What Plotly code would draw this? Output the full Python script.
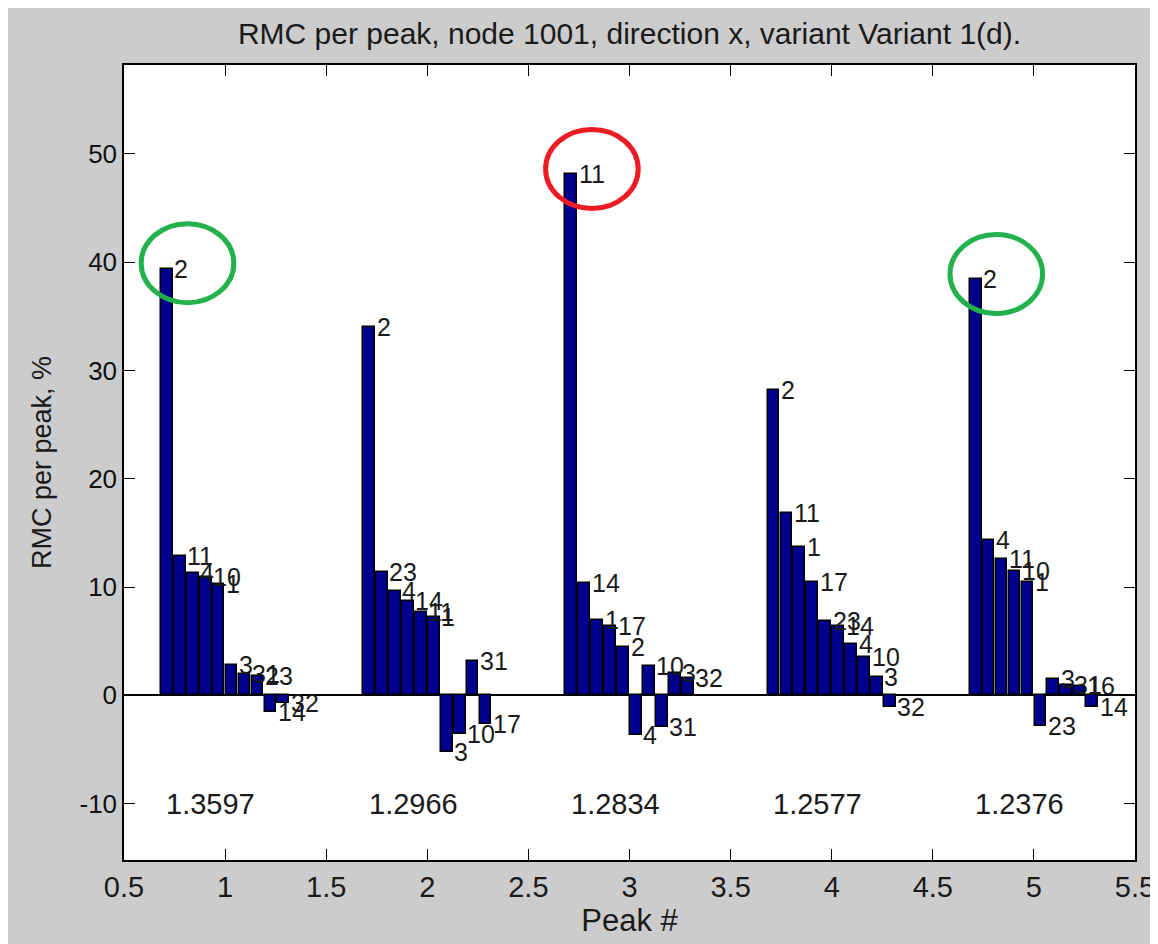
import plotly.graph_objects as go

# ---- data ----
peaks = [1, 2, 3, 4, 5]
peak_values = ["1.3597", "1.2966", "1.2834", "1.2577", "1.2376"]

g1_vals = [39.4, 12.9, 11.3, 10.9, 10.3, 2.8, 2.0, 1.8, -1.5, -0.7]
g1_nodes = ["2", "11", "4", "10", "1", "3", "31", "23", "14", "32"]
g2_vals = [34.0, 11.4, 9.6, 8.7, 7.7, 7.2, -5.2, -3.6, 3.2, -2.6]
g2_nodes = ["2", "23", "4", "14", "11", "1", "3", "10", "31", "17"]
g3_vals = [48.1, 10.4, 7.0, 6.4, 4.5, -3.7, 2.7, -2.9, 2.1, 1.6]
g3_nodes = ["11", "14", "1", "17", "2", "4", "10", "31", "3", "32"]
g4_vals = [28.2, 16.8, 13.7, 10.5, 6.9, 6.4, 4.7, 3.5, 1.7, -1.1]
g4_nodes = ["2", "11", "1", "17", "23", "14", "4", "10", "3", "32"]
g5_vals = [38.4, 14.3, 12.6, 11.5, 10.5, -2.8, 1.5, 1.0, 0.9, -1.1]
g5_nodes = ["2", "4", "11", "10", "1", "23", "3", "31", "16", "14"]

# highlighted groups (index into peaks) and circle colours
highlight_groups = [0, 2, 4]
highlight_colors = ["#22b14c", "#ed1c24", "#22b14c"]

x_ticks = [0.5, 1, 1.5, 2, 2.5, 3, 3.5, 4, 4.5, 5, 5.5]
y_ticks = [-10, 0, 10, 20, 30, 40, 50]

# ---- layout constants ----
group_vals = [g1_vals, g2_vals, g3_vals, g4_vals, g5_vals]
group_nodes = [g1_nodes, g2_nodes, g3_nodes, g4_nodes, g5_nodes]
SPACING = 0.064
BAR_W = 0.058
FONT = "Liberation Sans, Arial, sans-serif"
TXT = "#1a1a1a"

xs, ys = [], []
annotations = []
for p, vals, nodes in zip(peaks, group_vals, group_nodes):
    n = len(vals)
    for i, (v, lab) in enumerate(zip(vals, nodes)):
        xc = p + (i - (n - 1) / 2) * SPACING
        xs.append(xc)
        ys.append(v)
        annotations.append(dict(
            x=xc + SPACING / 2, y=v, text=lab, showarrow=False,
            xanchor="left", yanchor="middle", xref="x", yref="y",
            font=dict(family=FONT, size=25, color=TXT), borderpad=0))

for p, pv in zip(peaks, peak_values):
    annotations.append(dict(
        x=p - 0.3, y=-10, text=pv, showarrow=False,
        xanchor="left", yanchor="middle", xref="x", yref="y",
        font=dict(family=FONT, size=29, color=TXT)))

fig = go.Figure()
fig.add_trace(go.Bar(
    x=xs, y=ys, width=BAR_W,
    marker=dict(color="#00008f", line=dict(color="black", width=1.5)),
    hoverinfo="skip", showlegend=False))

shapes = []
for gi, col in zip(highlight_groups, highlight_colors):
    vals = group_vals[gi]
    xc = peaks[gi] - 4.5 * SPACING + SPACING / 2 + 0.07
    yc = vals[0] + 0.5
    shapes.append(dict(type="circle", xref="x", yref="y",
                       x0=xc - 0.229, x1=xc + 0.229, y0=yc - 3.65, y1=yc + 3.65,
                       line=dict(color=col, width=5)))

fig.update_layout(
    width=1158, height=944,
    margin=dict(l=116, r=31, t=57, b=92, autoexpand=False),
    paper_bgcolor="#cccccc", plot_bgcolor="white",
    bargap=0,
    title=dict(text="RMC per peak, node 1001, direction x, variant Variant 1(d).",
               x=0.5, xref="paper", xanchor="center", y=0.973, yref="container",
               yanchor="middle", automargin=False,
               font=dict(family=FONT, size=30, color=TXT)),
    annotations=annotations,
    shapes=shapes,
    xaxis=dict(range=[0.5, 5.5], tickvals=x_ticks,
               ticktext=[f"{t:g}" for t in x_ticks], automargin=False,
               ticks="inside", ticklen=11, tickwidth=1, tickcolor="black",
               showline=True, linecolor="black", linewidth=1.5, mirror="ticks",
               showgrid=False, zeroline=False,
               tickfont=dict(family=FONT, size=29, color=TXT),
               title=dict(text="Peak #", font=dict(family=FONT, size=31, color=TXT),
                          standoff=6)),
    yaxis=dict(range=[-15.2, 58.2], tickvals=y_ticks,
               ticktext=[str(t) for t in y_ticks], automargin=False,
               ticks="inside", ticklen=11, tickwidth=1, tickcolor="black",
               showline=True, linecolor="black", linewidth=1.5, mirror="ticks",
               showgrid=False, zeroline=True, zerolinecolor="black", zerolinewidth=1.5,
               tickfont=dict(family=FONT, size=26, color="#111111"),
               title=dict(text="RMC per peak, %", font=dict(family=FONT, size=27, color=TXT),
                          standoff=20)),
)

fig.write_html("out.html")
